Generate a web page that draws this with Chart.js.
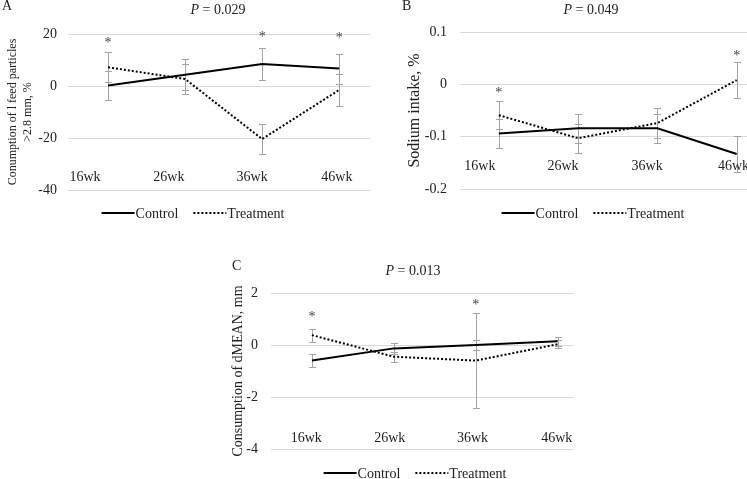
<!DOCTYPE html>
<html>
<head>
<meta charset="utf-8">
<script src="https://cdn.jsdelivr.net/npm/chart.js@4.4.1/dist/chart.umd.min.js"></script>
<style>
  body { margin: 0; background: #fff; width: 747px; height: 479px; overflow: hidden; position: relative; }
  canvas { position: absolute; }
</style>
</head>
<body>
<canvas id="chartA" width="380" height="230" style="left:0;top:0"></canvas>
<canvas id="chartB" width="367" height="230" style="left:380px;top:0"></canvas>
<canvas id="chartC" width="420" height="239" style="left:200px;top:240px"></canvas>
<script>
const weeks = ['16wk', '26wk', '36wk', '46wk'];

// A - feed particles > 2.8 mm
const controlA = [0.2, 4.3, 8.5, 6.7];
const treatA = [7.2, 2.7, -20.4, -1.5];
const controlErrA = [5.7, 6.0, 6.0, 5.8];
const treatErrA = [5.8, 5.9, 5.8, 6.0];
const starsA = [17.2, null, 19.8, 19.1];
const yTicksA = [20, 0, -20, -40];

// B - sodium intake
const controlB = [-0.094, -0.084, -0.084, -0.133];
const treatB = [-0.059, -0.103, -0.074, 0.008];
const controlErrB = [0.028, 0.028, 0.028, 0.034];
const treatErrB = [0.027, 0.028, 0.028, 0.034];
const starsB = [-0.012, null, null, 0.058];
const yTicksB = [0.1, 0, -0.1, -0.2];

// C - dMEAN
const controlC = [-0.6, -0.13, 0.0, 0.14];
const treatC = [0.38, -0.45, -0.6, 0.03];
const controlErrC = [0.25, 0.2, 0.19, 0.16];
const treatErrC = [0.25, 0.2, 1.83, 0.15];
const starsC = [1.15, null, 1.6, null];
const yTicksC = [2, 0, -2, -4];

const FONT = '"Liberation Serif", "Times New Roman", serif';
const TEXT = '#222';

function series(label, vals, errs, dashed) {
  return {
    label: label,
    errors: errs,
    data: vals.map((v, i) => ({ x: i, y: v })),
    borderColor: '#000',
    borderWidth: 2,
    borderDash: dashed ? [2, 2] : [],
    pointRadius: 0,
    fill: false,
    tension: 0
  };
}

// error bars, title, week labels, stars, legend
function extras(cfg) {
  return {
    id: 'extras',
    beforeDatasetsDraw(chart) {
      const { ctx, scales: { x, y } } = chart;
      ctx.save();
      ctx.strokeStyle = '#a3a3a3';
      ctx.lineWidth = 1;
      chart.data.datasets.forEach(ds => {
        ds.data.forEach((p, i) => {
          const e = ds.errors[i];
          const px = Math.round(x.getPixelForValue(p.x)) + 0.5;
          const top = Math.round(y.getPixelForValue(p.y + e)) + 0.5;
          const bot = Math.round(y.getPixelForValue(p.y - e)) + 0.5;
          ctx.beginPath();
          ctx.moveTo(px, top); ctx.lineTo(px, bot);
          ctx.moveTo(px - 3.5, top); ctx.lineTo(px + 3.5, top);
          ctx.moveTo(px - 3.5, bot); ctx.lineTo(px + 3.5, bot);
          ctx.stroke();
        });
      });
      ctx.restore();
    },
    afterDraw(chart) {
      const { ctx, scales: { x, y } } = chart;
      ctx.save();
      ctx.fillStyle = TEXT;
      ctx.textBaseline = 'middle';

      // panel letter
      ctx.font = '14px ' + FONT;
      ctx.textAlign = 'left';
      ctx.fillText(cfg.letter, cfg.letterX, cfg.letterY);

      // title with italic P
      ctx.font = 'italic 14px ' + FONT;
      const wP = ctx.measureText('P').width;
      ctx.font = '14px ' + FONT;
      const rest = ' = ' + cfg.p;
      const wR = ctx.measureText(rest).width;
      let sx = cfg.centerX - (wP + wR) / 2;
      ctx.font = 'italic 14px ' + FONT;
      ctx.fillText('P', sx, cfg.titleY);
      ctx.font = '14px ' + FONT;
      ctx.fillText(rest, sx + wP, cfg.titleY);

      // week labels inside the plot
      ctx.textAlign = 'center';
      weeks.forEach((w, i) => {
        ctx.fillText(w, x.getPixelForValue(cfg.labelPos[i]), y.getPixelForValue(cfg.labelY));
      });

      // significance stars
      ctx.fillStyle = '#444';
      ctx.textBaseline = 'alphabetic';
      cfg.stars.forEach((s, i) => {
        if (s === null) return;
        ctx.fillText('*', x.getPixelForValue(i), y.getPixelForValue(s) + 6);
      });

      // legend
      ctx.fillStyle = TEXT;
      ctx.textBaseline = 'middle';
      ctx.textAlign = 'left';
      const lineLen = 33, gap = 1, itemGap = 15;
      const items = chart.data.datasets.map(ds => ({ ds: ds, w: ctx.measureText(ds.label).width }));
      let total = items.reduce((s, it) => s + lineLen + gap + it.w, 0) + itemGap * (items.length - 1);
      let lx = cfg.centerLegend - total / 2;
      items.forEach(it => {
        ctx.save();
        ctx.strokeStyle = '#000';
        ctx.lineWidth = 2;
        ctx.setLineDash(it.ds.borderDash);
        ctx.beginPath();
        ctx.moveTo(lx, cfg.legendY);
        ctx.lineTo(lx + lineLen, cfg.legendY);
        ctx.stroke();
        ctx.restore();
        ctx.fillText(it.ds.label, lx + lineLen + gap, cfg.legendY + 1);
        lx += lineLen + gap + it.w + itemGap;
      });
      ctx.restore();
    }
  };
}

function makeChart(id, cfg) {
  return new Chart(document.getElementById(id), {
    type: 'line',
    data: {
      datasets: [
        series('Control', cfg.control, cfg.controlErr, false),
        series('Treatment', cfg.treat, cfg.treatErr, true)
      ]
    },
    options: {
      responsive: false,
      animation: false,
      events: [],
      layout: { padding: cfg.padding },
      plugins: { legend: { display: false }, tooltip: { enabled: false } },
      scales: {
        x: { type: 'linear', min: cfg.xMin, max: cfg.xMax, display: false },
        y: {
          min: cfg.yTicks[cfg.yTicks.length - 1],
          max: cfg.yTicks[0],
          afterBuildTicks: s => { s.ticks = cfg.yTicks.map(v => ({ value: v })); },
          afterFit: s => { s.width = cfg.yWidth; },
          grid: { color: '#d9d9d9', drawTicks: false },
          border: { display: false },
          ticks: {
            padding: cfg.tickPad,
            color: TEXT,
            font: { family: FONT, size: 14 },
            callback: v => String(v)
          },
          title: {
            display: true,
            text: cfg.yTitle,
            color: TEXT,
            font: { family: FONT, size: cfg.yTitleSize },
            padding: { top: cfg.yTitlePad, bottom: 0 }
          }
        }
      }
    },
    plugins: [extras(cfg)]
  });
}

makeChart('chartA', {
  control: controlA, treat: treatA, controlErr: controlErrA, treatErr: treatErrA,
  stars: starsA, yTicks: yTicksA,
  yTitle: ['Conumption of l feed particles', '>2.8 mm, %'], yTitleSize: 12, yTitlePad: 6,
  padding: { top: 34, right: 10, bottom: 40, left: 0 },
  yWidth: 68, tickPad: 11, xMin: -0.52, xMax: 3.40,
  labelPos: [-0.30, 0.79, 1.87, 2.97], labelY: -35.3,
  letter: 'A', letterX: 2, letterY: 6, p: '0.029', centerX: 218, titleY: 10,
  centerLegend: 193, legendY: 213
});

makeChart('chartB', {
  control: controlB, treat: treatB, controlErr: controlErrB, treatErr: treatErrB,
  stars: starsB, yTicks: yTicksB,
  yTitle: 'Sodium intake, %', yTitleSize: 16, yTitlePad: 25,
  padding: { top: 32, right: 0, bottom: 41, left: 0 },
  yWidth: 80, tickPad: 13, xMin: -0.49, xMax: 3.13,
  labelPos: [-0.24, 0.81, 1.87, 2.96], labelY: -0.157,
  letter: 'B', letterX: 22, letterY: 6, p: '0.049', centerX: 211, titleY: 10,
  centerLegend: 213, legendY: 213
});

makeChart('chartC', {
  control: controlC, treat: treatC, controlErr: controlErrC, treatErr: treatErrC,
  stars: starsC, yTicks: yTicksC,
  yTitle: 'Consumption of dMEAN, mm', yTitleSize: 14, yTitlePad: 30,
  padding: { top: 53, right: 46, bottom: 30, left: 0 },
  yWidth: 71, tickPad: 13, xMin: -0.5, xMax: 3.2,
  labelPos: [-0.07, 0.95, 1.96, 2.99], labelY: -3.58,
  letter: 'C', letterX: 32, letterY: 26, p: '0.013', centerX: 213, titleY: 31,
  centerLegend: 215, legendY: 233
});
</script>
</body>
</html>
